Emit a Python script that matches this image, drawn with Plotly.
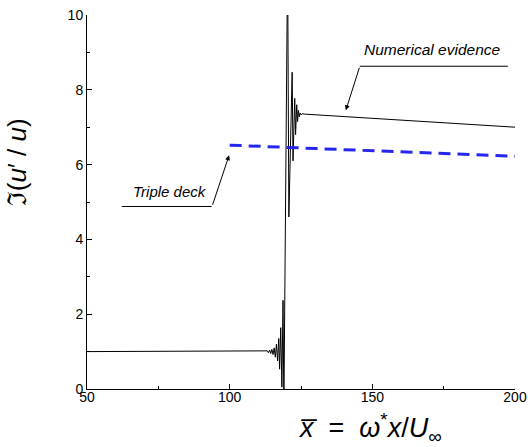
import plotly.graph_objects as go

# Numerical evidence (black solid line)
num_x = [50, 112.5, 113.2, 113.6, 114.0, 114.4, 114.8, 115.2, 115.6, 116.0, 116.4,
         116.8, 117.2, 117.5, 117.9, 118.3, 118.7, 119.0, 120.3, 120.75, 121.9,
         122.2, 122.8, 123.1, 123.5, 123.8, 124.1, 124.4, 124.7, 125.0, 125.4,
         126.3, 200]
num_y = [1.0, 1.0, 1.02, 0.97, 1.04, 0.95, 1.06, 0.92, 1.1, 0.85, 1.2,
         0.75, 1.35, 0.53, 1.64, 0.05, 2.37, -0.5, 11.5, 4.6, 8.47,
         6.1, 7.77, 6.8, 7.6, 7.15, 7.45, 7.28, 7.38, 7.33, 7.36,
         7.35, 7.0]

# Triple deck (blue dashed line)
tri_x = [100, 200]
tri_y = [6.52, 6.22]

x_ticks = [50, 100, 150, 200]
y_ticks = [0, 2, 4, 6, 8, 10]

fig = go.Figure()
fig.add_trace(go.Scatter(x=num_x, y=num_y, mode="lines",
                         line=dict(color="black", width=1), showlegend=False))
fig.add_trace(go.Scatter(x=tri_x, y=tri_y, mode="lines",
                         line=dict(color="#2626f0", width=3, dash="12px,7px"),
                         showlegend=False))

font_main = "Liberation Sans, Arial, sans-serif"

fig.update_layout(
    width=528, height=447, autosize=False,
    margin=dict(l=87, r=13, t=15, b=58),
    paper_bgcolor="white", plot_bgcolor="white",
    font=dict(family=font_main, size=14, color="black"),
    xaxis=dict(range=[50, 200], tickvals=x_ticks, ticks="inside", ticklen=5,
               tickwidth=1, tickcolor="black", showline=True, linecolor="black",
               linewidth=1, showgrid=False, zeroline=False, automargin=False,
               ticklabelstandoff=-5,
               minor=dict(ticks="inside", ticklen=3, tickcolor="black", dtick=25,
                          showgrid=False),
               tickfont=dict(size=14)),
    yaxis=dict(range=[0, 10], tickvals=y_ticks, ticks="inside", ticklen=5,
               tickwidth=1, tickcolor="black", showline=True, linecolor="black",
               linewidth=1, showgrid=False, zeroline=False, automargin=False,
               minor=dict(ticks="inside", ticklen=3, tickcolor="black", dtick=1,
                          showgrid=False),
               tickfont=dict(size=14)),
)

# Axis titles as annotations
fig.add_annotation(xref="paper", yref="paper", x=0.662, y=-0.104,
                   text="<i>x̅</i>  =  <i>ω</i><sup>*</sup><i>x</i>/<i>U</i><sub>∞</sub>",
                   showarrow=False, xanchor="center", yanchor="middle",
                   font=dict(size=27, family=font_main))
fig.add_annotation(xref="paper", yref="paper", x=-0.163, y=0.607,
                   text="ℑ(<i>u</i>′ / <i>u</i>)", textangle=-90,
                   showarrow=False, xanchor="center", yanchor="middle",
                   font=dict(size=26, family=font_main))

# Callout: Numerical evidence
fig.add_annotation(x=171.0, y=9.08, text="<i>Numerical evidence</i>",
                   showarrow=False, xanchor="center", yanchor="middle",
                   font=dict(size=15.5))
fig.add_shape(type="line", x0=145.6, x1=197.5, y0=8.63, y1=8.63,
              line=dict(color="black", width=1))
fig.add_annotation(x=140.7, y=7.45, ax=14, ay=-44, text="",
                   showarrow=True, arrowhead=2, arrowsize=1, arrowwidth=1,
                   arrowcolor="black")

# Callout: Triple deck
fig.add_annotation(x=79.0, y=5.28, text="<i>Triple deck</i>",
                   showarrow=False, xanchor="center", yanchor="middle",
                   font=dict(size=15))
fig.add_shape(type="line", x0=62.2, x1=93.7, y0=4.88, y1=4.88,
              line=dict(color="black", width=1))
fig.add_annotation(x=99.8, y=6.25, ax=-17, ay=51, text="",
                   showarrow=True, arrowhead=2, arrowsize=1, arrowwidth=1,
                   arrowcolor="black")

fig.write_html("out.html", config={"responsive": False, "displayModeBar": False},
               post_script="document.body.style.margin='0';document.body.style.overflow='hidden';")
